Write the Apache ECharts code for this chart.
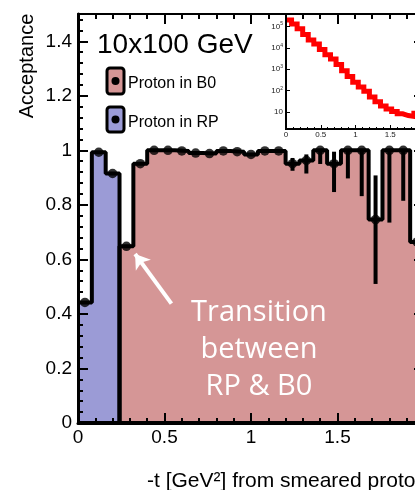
<!DOCTYPE html>
<html><head><meta charset="utf-8">
<script src="https://cdn.jsdelivr.net/npm/echarts@6/dist/echarts.min.js"></script>
<style>html,body{margin:0;padding:0;background:#fff;overflow:hidden;width:415px;height:490px}#c{width:440px;height:490px}</style>
</head><body><div id="c"></div>
<script>
// ---- data ----
const binCenters = [0.04,0.12,0.20,0.28,0.36,0.44,0.52,0.60,0.68,0.76,0.84,0.92,1.00,1.08,1.16,1.24,1.32,1.40,1.48,1.56,1.64,1.72,1.80,1.88,1.96];
const binWidth = 0.08;
const rpAcceptance = [0.442,0.993,0.915,0,0,0,0,0,0,0,0,0,0,0,0,0,0,0,0,0,0,0,0,0,0];
const b0Acceptance = [0,0,0,0.648,0.951,1.0,1.0,0.998,0.99,0.988,0.998,0.995,0.985,0.998,0.998,0.951,0.963,1.0,0.951,1.0,1.0,0.746,1.0,1.0,0.664];
const b0ErrLow  = [0,0,0,0.648,0.951,1.0,1.0,0.998,0.99,0.988,0.998,0.995,0.985,0.998,0.998,0.925,0.915,0.95,0.847,0.897,0.832,0.51,0.735,0.815,0.25];
const b0ErrHigh = [0,0,0,0.648,0.951,1.0,1.0,0.998,0.99,0.988,0.998,0.995,0.985,0.998,0.998,0.972,0.985,1.0,0.995,1.0,1.0,0.908,1.0,1.0,0.87];
const insetCounts = [2.0e5,1.3e5,7.8e4,4.2e4,2.3e4,1.5e4,8.3e3,4.8e3,3.0e3,1.66e3,850,460,250,150,95,50,30,19,14,10.5,8.3,6.9,6.3,8.9,10];
const titleText = '10x100 GeV';
const legendNames = ['Proton in B0','Proton in RP'];
const colB0 = '#d59696', colRP = '#9b9bd6';

// ---- helpers ----
function stepData(vals){
  const d = binCenters.map((c,i)=>[c - binWidth/2, vals[i]]);
  d.push([binCenters[binCenters.length-1] + binWidth/2, vals[vals.length-1]]);
  return d;
}
function points(vals){ return binCenters.map((c,i)=>[c, vals[i]]).filter(p=>p[1]>0); }
const FF = 'Liberation Sans';
const tickStyle = {color:'#000', width:2};

const chart = echarts.init(document.getElementById('c'), null, {renderer:'canvas'});
const mainX = (pos, labels, lw) => ({
  gridIndex:0, type:'value', min:0, max:2, interval:0.5, position:pos, z:5,
  axisLine:{show:true, onZero:false, lineStyle:{color:'#000', width:lw}},
  axisTick:{show:true, inside:true, length:10, lineStyle:tickStyle},
  minorTick:{show:true, splitNumber:5, length:5, lineStyle:tickStyle},
  splitLine:{show:false}, minorSplitLine:{show:false},
  axisLabel:{show:labels, fontSize:19, color:'#000', margin:5, fontFamily:FF}
});
const mainY = (pos, iv, len, labels, lw, showLine) => ({
  gridIndex:0, type:'value', min:0, max:1.5, interval:iv, position:pos, z:5,
  axisLine:{show:showLine, onZero:false, lineStyle:{color:'#000', width:lw}},
  axisTick:{show:true, inside:true, length:len, lineStyle:tickStyle},
  splitLine:{show:false},
  axisLabel:{show:labels, fontSize:19, color:'#000', margin:6, fontFamily:FF,
    formatter:v=>{ const k=v/0.2; return (Math.abs(k-Math.round(k))<1e-6 && v<1.45) ? String(+v.toFixed(1)) : ''; }}
});

const option = {
  animation:false,
  textStyle:{fontFamily:FF},
  grid:[
    {left:78, top:14, right:16, bottom:67, show:false},
    {left:286, top:14, right:15, bottom:361, show:true, backgroundColor:'#fff', borderColor:'#000', borderWidth:2}
  ],
  xAxis:[
    mainX('bottom', true, 3),
    mainX('top', false, 2),
    {gridIndex:1, type:'value', min:0, max:2, interval:0.5, position:'bottom', z:5,
     axisLine:{show:true, onZero:false, lineStyle:{color:'#000', width:2}},
     axisTick:{show:true, inside:true, length:4, lineStyle:{color:'#000', width:1}},
     minorTick:{show:true, splitNumber:5, length:2, lineStyle:{color:'#000', width:1}},
     splitLine:{show:false}, minorSplitLine:{show:false},
     axisLabel:{fontSize:8, color:'#222', margin:2, fontFamily:FF}}
  ],
  yAxis:[
    mainY('left', 0.2, 10, true, 3, true),
    mainY('left', 0.04, 5, false, 3, false),
    mainY('right', 0.2, 10, false, 2, true),
    mainY('right', 0.04, 5, false, 2, false),
    {gridIndex:1, type:'log', logBase:10, min:1.62, max:3.8e5, position:'left', z:5,
     axisLine:{show:true, onZero:false, lineStyle:{color:'#000', width:2}},
     axisTick:{show:true, inside:true, length:4, lineStyle:{color:'#000', width:1}},
     splitLine:{show:false},
     axisLabel:{fontSize:8, color:'#222', margin:3, fontFamily:FF,
       formatter:v=>{ const l=Math.log10(v); if(Math.abs(l-Math.round(l))>1e-6) return ''; const n=Math.round(l); return n===1?'10':'10{s|'+n+'}'; },
       rich:{s:{fontSize:5, verticalAlign:'top', padding:[0,0,5,0]}}}}
  ],
  series:[
    {type:'line', name:legendNames[1], xAxisIndex:0, yAxisIndex:0, step:'end', data:stepData(rpAcceptance),
     symbol:'none', lineStyle:{color:'#000', width:4}, areaStyle:{color:colRP, opacity:1}, z:2},
    {type:'line', name:legendNames[0], xAxisIndex:0, yAxisIndex:0, step:'end', data:stepData(b0Acceptance),
     symbol:'none', lineStyle:{color:'#000', width:4}, areaStyle:{color:colB0, opacity:1}, z:2,
     markLine:{silent:true, symbol:['none','arrow'], symbolSize:14, label:{show:false},
       lineStyle:{color:'#fff', width:4, type:'solid'},
       data:[[{coord:[0.54,0.438]},{coord:[0.33,0.62]}]]}},
    {type:'custom', xAxisIndex:0, yAxisIndex:0, z:3,
     data:binCenters.map((c,i)=>[c, b0ErrLow[i], b0ErrHigh[i]]).filter(d=>d[2]>d[1]),
     renderItem:(params, api)=>{
       const p1 = api.coord([api.value(0), api.value(1)]);
       const p2 = api.coord([api.value(0), api.value(2)]);
       return {type:'line', shape:{x1:p1[0], y1:p1[1], x2:p2[0], y2:p2[1]}, style:{stroke:'#000', lineWidth:4}};
     }},
    {type:'scatter', xAxisIndex:0, yAxisIndex:0, data:points(rpAcceptance), symbolSize:9.5, itemStyle:{color:'#000'}, z:4},
    {type:'scatter', xAxisIndex:0, yAxisIndex:0, data:points(b0Acceptance), symbolSize:9.5, itemStyle:{color:'#000'}, z:4},
    {type:'line', xAxisIndex:2, yAxisIndex:4, step:'end', data:stepData(insetCounts), symbol:'none',
     lineStyle:{color:'#ff0000', width:5, join:'miter'}, z:3}
  ],
  graphic:[
    {type:'text', z:100, x:97, y:45, style:{text:titleText, fontSize:28, fontFamily:FF, fill:'#000', textVerticalAlign:'middle'}},
    {type:'rect', z:100, shape:{x:107, y:68, width:17, height:26, r:3}, style:{fill:colB0, stroke:'#000', lineWidth:3}},
    {type:'circle', z:101, shape:{cx:115.5, cy:81, r:4}, style:{fill:'#000'}},
    {type:'text', z:100, x:128, y:83.5, style:{text:legendNames[0], fontSize:16, fontFamily:FF, fill:'#000', textVerticalAlign:'middle'}},
    {type:'rect', z:100, shape:{x:107, y:107, width:17, height:25, r:3}, style:{fill:colRP, stroke:'#000', lineWidth:3}},
    {type:'circle', z:101, shape:{cx:115.5, cy:119.5, r:4}, style:{fill:'#000'}},
    {type:'text', z:100, x:128, y:123, style:{text:legendNames[1], fontSize:16, fontFamily:FF, fill:'#000', textVerticalAlign:'middle'}},
    {type:'text', z:100, x:27.5, y:66, rotation:Math.PI/2, style:{text:'Acceptance', fontSize:20, fontFamily:FF, fill:'#000', textAlign:'center', textVerticalAlign:'middle'}},
    {type:'text', z:100, x:147, y:481, style:{text:'-t [GeV²] from smeared proton', fontSize:21, fontFamily:FF, fill:'#000', textVerticalAlign:'middle'}},
    {type:'text', z:100, x:259, y:350, style:{text:'Transition\nbetween\nRP & B0', fontSize:29, lineHeight:37, fontFamily:'Open Sans', fill:'#fff', textAlign:'center', textVerticalAlign:'middle'}}
  ]
};
chart.setOption(option);
</script></body></html>
